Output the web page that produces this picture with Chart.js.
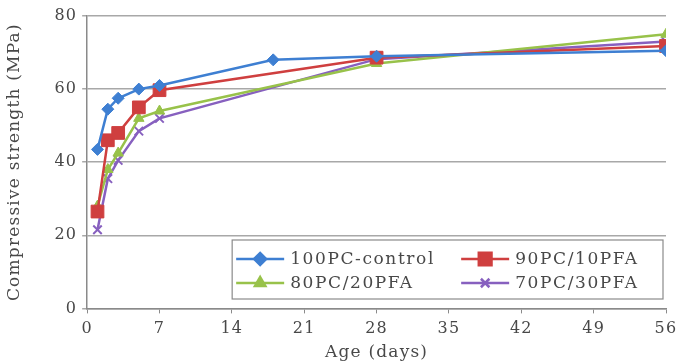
<!DOCTYPE html>
<html>
<head>
<meta charset="utf-8">
<script src="https://cdn.jsdelivr.net/npm/chart.js@4"></script>
<style>
  html, body { margin: 0; padding: 0; background: #fff; }
  #wrap { width: 677px; height: 363px; }
</style>
</head>
<body>
<div id="wrap"><canvas id="lineChart" width="677" height="363"></canvas></div>
<script>
// ages (days) and strengths (MPa)
var ctrlAge = [1, 2, 3, 5, 7, 18, 28, 56];
var ctrlVal = [43.5, 54.5, 57.5, 60, 61, 68, 69, 70.5];
var pfaAge = [1, 2, 3, 5, 7, 28, 56];
var pfa10 = [26.5, 46, 48, 55, 59.7, 68.6, 71.8];
var pfa20 = [28, 38, 42.5, 52, 54, 67, 75];
var pfa30 = [21.5, 35.5, 40.5, 48.5, 52, 68.2, 73];
var seriesNames = ['100PC-control', '90PC/10PFA', '80PC/20PFA', '70PC/30PFA'];
var xTicks = [0, 7, 14, 21, 28, 35, 42, 49, 56];
var yTicks = [0, 20, 40, 60, 80];

var serif = "'DejaVu Serif', 'Liberation Serif', serif";
var txt = '#484848';
var spacing = '1.2px';

var pts = (ages, vals) => ages.map((a, i) => ({x: a, y: vals[i]}));

var mk = (label, data, color, style, r) => ({
  label: label,
  data: data,
  borderColor: color,
  backgroundColor: color,
  pointBackgroundColor: color,
  pointBorderColor: color,
  pointStyle: style,
  pointRadius: r,
  pointBorderWidth: style === 'crossRot' ? 2 : 1,
  borderWidth: 2.5,
  tension: 0
});

// the figure's text is spaced out a little
var spaced = {
  id: 'spaced',
  beforeUpdate: (chart) => { chart.ctx.letterSpacing = spacing; },
  beforeDraw: (chart) => { chart.ctx.letterSpacing = spacing; }
};

// legend drawn inside the plot, bottom right
var boxLegend = {
  id: 'boxLegend',
  afterDraw: (chart) => {
    let ctx = chart.ctx;
    let ca = chart.chartArea;
    let l = ca.left + 145, t = ca.top + 224, r = ca.right - 3, b = ca.top + 283;
    ctx.save();
    ctx.fillStyle = '#fff';
    ctx.fillRect(l, t, r - l, b - t);
    ctx.strokeStyle = '#8a8a8a';
    ctx.lineWidth = 1.2;
    ctx.strokeRect(l, t, r - l, b - t);
    let cols = [l + 4, l + 229];
    let rows = [t + 19, t + 43];
    [0, 1, 2, 3].forEach((di, k) => {
      let ds = chart.data.datasets[di];
      let x = cols[k % 2], y = rows[Math.floor(k / 2)];
      ctx.strokeStyle = ds.borderColor;
      ctx.lineWidth = 2.5;
      ctx.beginPath();
      ctx.moveTo(x, y);
      ctx.lineTo(x + 48, y);
      ctx.stroke();
      ctx.fillStyle = ds.borderColor;
      Chart.helpers.drawPoint(ctx, {pointStyle: ds.pointStyle, radius: ds.pointRadius, rotation: 0, borderWidth: ds.pointBorderWidth}, x + 24, y);
      ctx.fillStyle = txt;
      ctx.letterSpacing = '1.6px';
      ctx.font = "17px " + serif;
      ctx.textBaseline = 'middle';
      ctx.fillText(ds.label, x + 54, y + 1);
    });
    ctx.restore();
  }
};

var ctxL = document.getElementById('lineChart').getContext('2d');
var myLineChart = new Chart(ctxL, {
  type: 'line',
  data: {
    datasets: [
      mk(seriesNames[0], pts(ctrlAge, ctrlVal), '#3e7fd2', 'rectRot', 6),
      mk(seriesNames[1], pts(pfaAge, pfa10), '#cf3f3f', 'rect', 9),
      mk(seriesNames[2], pts(pfaAge, pfa20), '#98c24a', 'triangle', 6),
      mk(seriesNames[3], pts(pfaAge, pfa30), '#8760bf', 'crossRot', 6)
    ]
  },
  options: {
    responsive: false,
    animation: false,
    layout: {padding: {top: 16, right: 11, left: 4, bottom: 0}},
    plugins: {legend: {display: false}, tooltip: {enabled: false}},
    scales: {
      x: {
        type: 'linear',
        min: 0, max: 56,
        afterBuildTicks: (s) => { s.ticks = xTicks.map(v => ({value: v})); },
        afterFit: (s) => { s.paddingRight = 0; },
        ticks: {color: txt, font: {family: serif, size: 16}, padding: 6},
        grid: {drawOnChartArea: false, drawTicks: true, tickLength: 5, color: '#8a8a8a'},
        border: {color: '#8a8a8a', width: 1.5},
        title: {display: true, text: 'Age (days)', color: txt, font: {family: serif, size: 17}, padding: {top: -2, bottom: 0}}
      },
      y: {
        min: 0, max: 80,
        afterBuildTicks: (s) => { s.ticks = yTicks.map(v => ({value: v})); },
        afterFit: (s) => { s.paddingTop = 0; },
        ticks: {color: txt, font: {family: serif, size: 16}, padding: 5},
        grid: {color: '#a8a8a8', lineWidth: 1.5, tickLength: 5},
        border: {color: '#8a8a8a', width: 1.5},
        title: {display: true, text: 'Compressive strength (MPa)', color: txt, font: {family: serif, size: 17}, padding: {top: 0, bottom: 25}}
      }
    }
  },
  plugins: [spaced, boxLegend]
});
</script>
</body>
</html>
